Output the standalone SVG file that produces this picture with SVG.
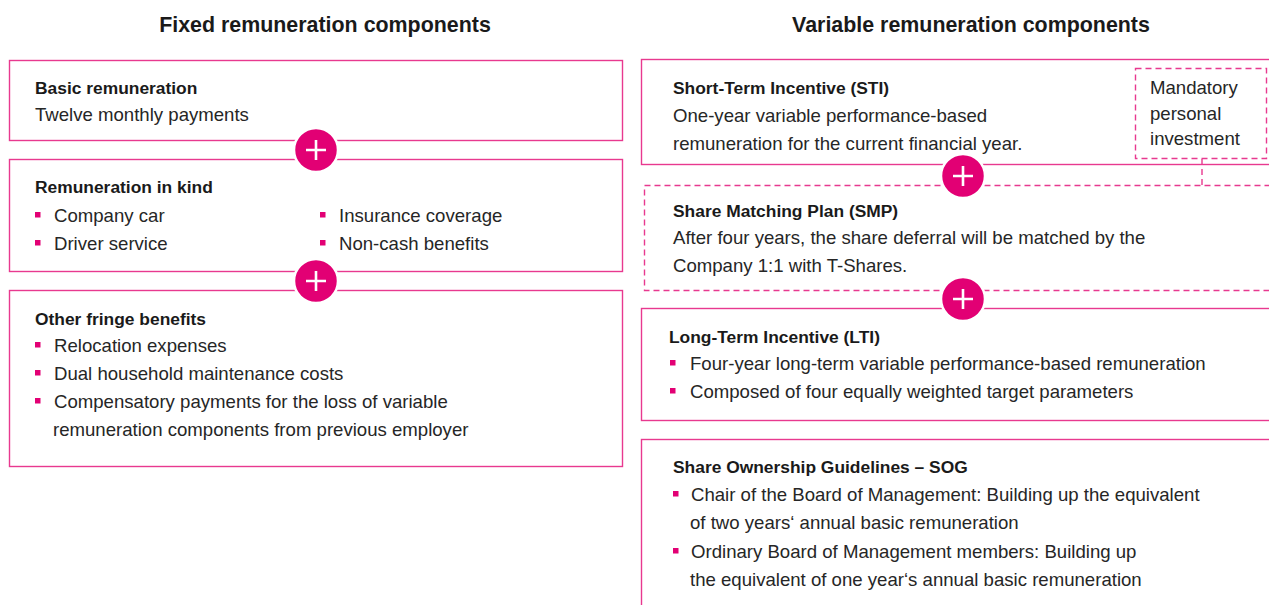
<svg xmlns="http://www.w3.org/2000/svg" width="1269" height="605" viewBox="0 0 1269 605">
<style>
.box{fill:#fff;stroke:#e8398f;stroke-width:1.4}
.dash{fill:#fff;stroke:#e8398f;stroke-width:1.4;stroke-dasharray:6 4}
.title{font-family:"Liberation Sans",Arial,sans-serif;font-weight:bold;font-size:21.4px;fill:#1a1a1a;text-anchor:middle}
.h{font-family:"Liberation Sans",Arial,sans-serif;font-weight:bold;font-size:17.4px;fill:#1a1a1a}
.t{font-family:"Liberation Sans",Arial,sans-serif;font-size:18.6px;fill:#262626}
.b{fill:#e20074}
.pc{fill:#e20074;stroke:#fff;stroke-width:2.5}
.pl{stroke:#fff;stroke-width:2.6;fill:none}
</style>
<defs>
<g id="plus"><circle class="pc" cx="0" cy="0" r="22"/><path class="pl" d="M-10 0H10M0 -10V10"/></g>
<rect id="bul" class="b" width="5.5" height="5.5"/>
</defs>
<rect width="1269" height="605" fill="#fff"/>
<text class="title" x="325" y="32">Fixed remuneration components</text>
<text class="title" x="971" y="32">Variable remuneration components</text>

<g id="basic">
<rect class="box" x="9.5" y="60.5" width="613" height="80"/>
<text class="h" x="35" y="94">Basic remuneration</text>
<text class="t" x="35" y="121">Twelve monthly payments</text>
</g>
<g id="kind">
<rect class="box" x="9.5" y="159.5" width="613" height="112"/>
<text class="h" x="35" y="193">Remuneration in kind</text>
<use href="#bul" x="35" y="212"/><text class="t" x="54" y="222">Company car</text>
<use href="#bul" x="35" y="240"/><text class="t" x="54" y="250">Driver service</text>
<use href="#bul" x="320" y="212"/><text class="t" x="339" y="222">Insurance coverage</text>
<use href="#bul" x="320" y="240"/><text class="t" x="339" y="250">Non-cash benefits</text>
</g>
<g id="fringe">
<rect class="box" x="9.5" y="290.5" width="613" height="176"/>
<text class="h" x="35" y="325">Other fringe benefits</text>
<use href="#bul" x="35" y="342"/><text class="t" x="54" y="352">Relocation expenses</text>
<use href="#bul" x="35" y="370"/><text class="t" x="54" y="380">Dual household maintenance costs</text>
<use href="#bul" x="35" y="398"/><text class="t" x="54" y="408">Compensatory payments for the loss of variable</text>
<text class="t" x="53" y="436">remuneration components from previous employer</text>
</g>

<g id="smp">
<rect class="dash" x="644.5" y="185.5" width="640" height="105"/>
<text class="h" x="673" y="217">Share Matching Plan (SMP)</text>
<text class="t" x="673" y="244">After four years, the share deferral will be matched by the</text>
<text class="t" x="673" y="272">Company 1:1 with T-Shares.</text>
</g>
<g id="sti">
<rect class="box" x="641.5" y="59.5" width="640" height="105"/>
<text class="h" x="673" y="94">Short-Term Incentive (STI)</text>
<text class="t" x="673" y="122">One-year variable performance-based</text>
<text class="t" x="673" y="150">remuneration for the current financial year.</text>
</g>
<g id="mandatory">
<rect class="dash" x="1135.5" y="68.5" width="131" height="90"/>
<text class="t" x="1150" y="94">Mandatory</text>
<text class="t" x="1150" y="120">personal</text>
<text class="t" x="1150" y="145">investment</text>
</g>
<g id="lti">
<rect class="box" x="641.5" y="308.5" width="640" height="112"/>
<text class="h" x="669" y="343">Long-Term Incentive (LTI)</text>
<use href="#bul" x="670" y="360"/><text class="t" x="690" y="370">Four-year long-term variable performance-based remuneration</text>
<use href="#bul" x="670" y="388"/><text class="t" x="690" y="398">Composed of four equally weighted target parameters</text>
</g>
<g id="sog">
<rect class="box" x="641.5" y="439.5" width="640" height="200"/>
<text class="h" x="673" y="473">Share Ownership Guidelines – SOG</text>
<use href="#bul" x="673" y="491"/><text class="t" x="691" y="501">Chair of the Board of Management: Building up the equivalent</text>
<text class="t" x="690" y="529">of two years‘ annual basic remuneration</text>
<use href="#bul" x="673" y="548"/><text class="t" x="691" y="558">Ordinary Board of Management members: Building up</text>
<text class="t" x="690" y="586">the equivalent of one year‘s annual basic remuneration</text>
</g>

<g id="connectors">
<path d="M1202 159V185" stroke="#e8398f" stroke-width="1.4" stroke-dasharray="6 4" fill="none"/>
<use href="#plus" x="316" y="150"/>
<use href="#plus" x="316" y="281"/>
<use href="#plus" x="963" y="176"/>
<use href="#plus" x="963" y="299"/>
</g>
</svg>
